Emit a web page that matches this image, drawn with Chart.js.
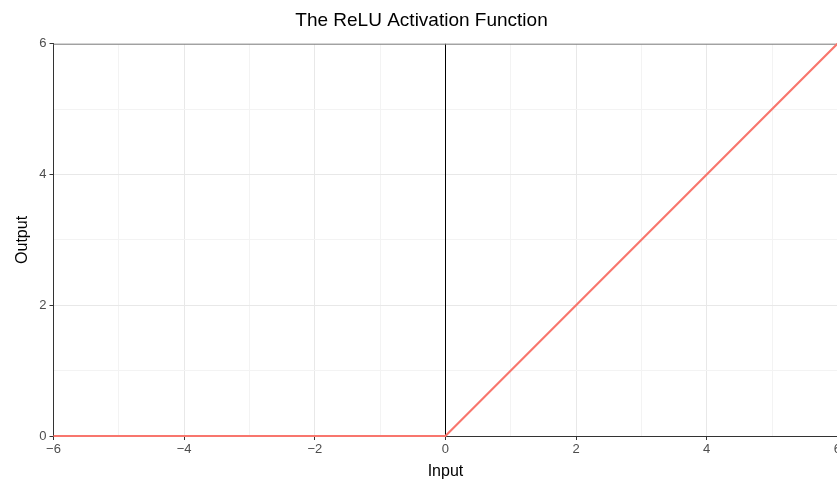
<!DOCTYPE html>
<html>
<head>
<meta charset="utf-8">
<script src="https://cdn.jsdelivr.net/npm/chart.js@4"></script>
<style>
  html, body { margin: 0; padding: 0; background: #fff; overflow: hidden; }
  #wrap { width: 843px; height: 481px; }
</style>
</head>
<body>
<div id="wrap"><canvas id="relu"></canvas></div>
<script>
// === DATA ===
const inputs = [-6, 0, 6];
const outputs = [0, 0, 6];
const xTicks = [-6, -4, -2, 0, 2, 4, 6];
const yTicks = [0, 2, 4, 6];

const FONT = "'Liberation Sans', Arial, sans-serif";
const minus = v => (v < 0 ? '\u2212' + Math.abs(v) : String(v));

// grey top border + black vertical line at x = 0
const panelLines = {
  id: 'panelLines',
  beforeDatasetsDraw(chart) {
    const { ctx, chartArea, scales } = chart;
    const x0 = Math.round(scales.x.getPixelForValue(0)) + 0.5;
    ctx.save();
    ctx.strokeStyle = '#000';
    ctx.lineWidth = 1;
    ctx.beginPath();
    ctx.moveTo(x0, chartArea.top);
    ctx.lineTo(x0, chartArea.bottom);
    ctx.stroke();
    ctx.strokeStyle = '#8a8a8a';
    ctx.beginPath();
    ctx.moveTo(chartArea.left, chartArea.top + 0.5);
    ctx.lineTo(chartArea.right, chartArea.top + 0.5);
    ctx.stroke();
    ctx.restore();
  }
};

new Chart(document.getElementById('relu'), {
  type: 'scatter',
  data: {
    datasets: [{
      data: inputs.map((x, i) => ({ x: x, y: outputs[i] })),
      showLine: true,
      borderColor: '#F8766D',
      borderWidth: 2.2,
      pointRadius: 0,
      clip: false
    }]
  },
  options: {
    responsive: true,
    maintainAspectRatio: false,
    animation: false,
    layout: { padding: 0 },
    plugins: {
      legend: { display: false },
      tooltip: { enabled: false },
      title: {
        display: true,
        text: 'The ReLU Activation Function',
        color: '#000',
        font: { family: FONT, size: 19, weight: 'normal' },
        padding: { top: 9, bottom: 12 }
      }
    },
    scales: {
      x: {
        type: 'linear',
        min: -6, max: 6,
        afterFit: s => { s.height = 45; },
        border: { color: '#333', width: 1 },
        grid: {
          color: c => c.tick.value === 0 ? 'rgba(0,0,0,0)' : (xTicks.includes(c.tick.value) ? '#e8e8e8' : '#f3f3f3'),
          tickLength: 4,
          tickColor: c => xTicks.includes(c.tick.value) ? '#333' : 'rgba(0,0,0,0)'
        },
        ticks: {
          stepSize: 1,
          autoSkip: false,
          maxRotation: 0,
          padding: 2,
          color: '#4d4d4d',
          font: { family: FONT, size: 13 },
          callback: v => xTicks.includes(v) ? minus(v) : ''
        },
        title: {
          display: true,
          text: 'Input',
          color: '#000',
          font: { family: FONT, size: 16 },
          padding: { top: 2, bottom: 0 }
        }
      },
      y: {
        type: 'linear',
        min: 0, max: 6,
        afterFit: s => { s.width = 53.5; },
        border: { color: '#333', width: 1 },
        grid: {
          color: c => yTicks.includes(c.tick.value) ? '#e8e8e8' : '#f3f3f3',
          tickLength: 4,
          tickColor: c => yTicks.includes(c.tick.value) ? '#333' : 'rgba(0,0,0,0)'
        },
        ticks: {
          stepSize: 1,
          autoSkip: false,
          padding: 3,
          color: '#4d4d4d',
          font: { family: FONT, size: 13 },
          callback: v => yTicks.includes(v) ? minus(v) : ''
        },
        title: {
          display: true,
          text: 'Output',
          color: '#000',
          font: { family: FONT, size: 16 },
          padding: { top: 13, bottom: 4 }
        }
      }
    }
  },
  plugins: [panelLines]
});
</script>
</body>
</html>
